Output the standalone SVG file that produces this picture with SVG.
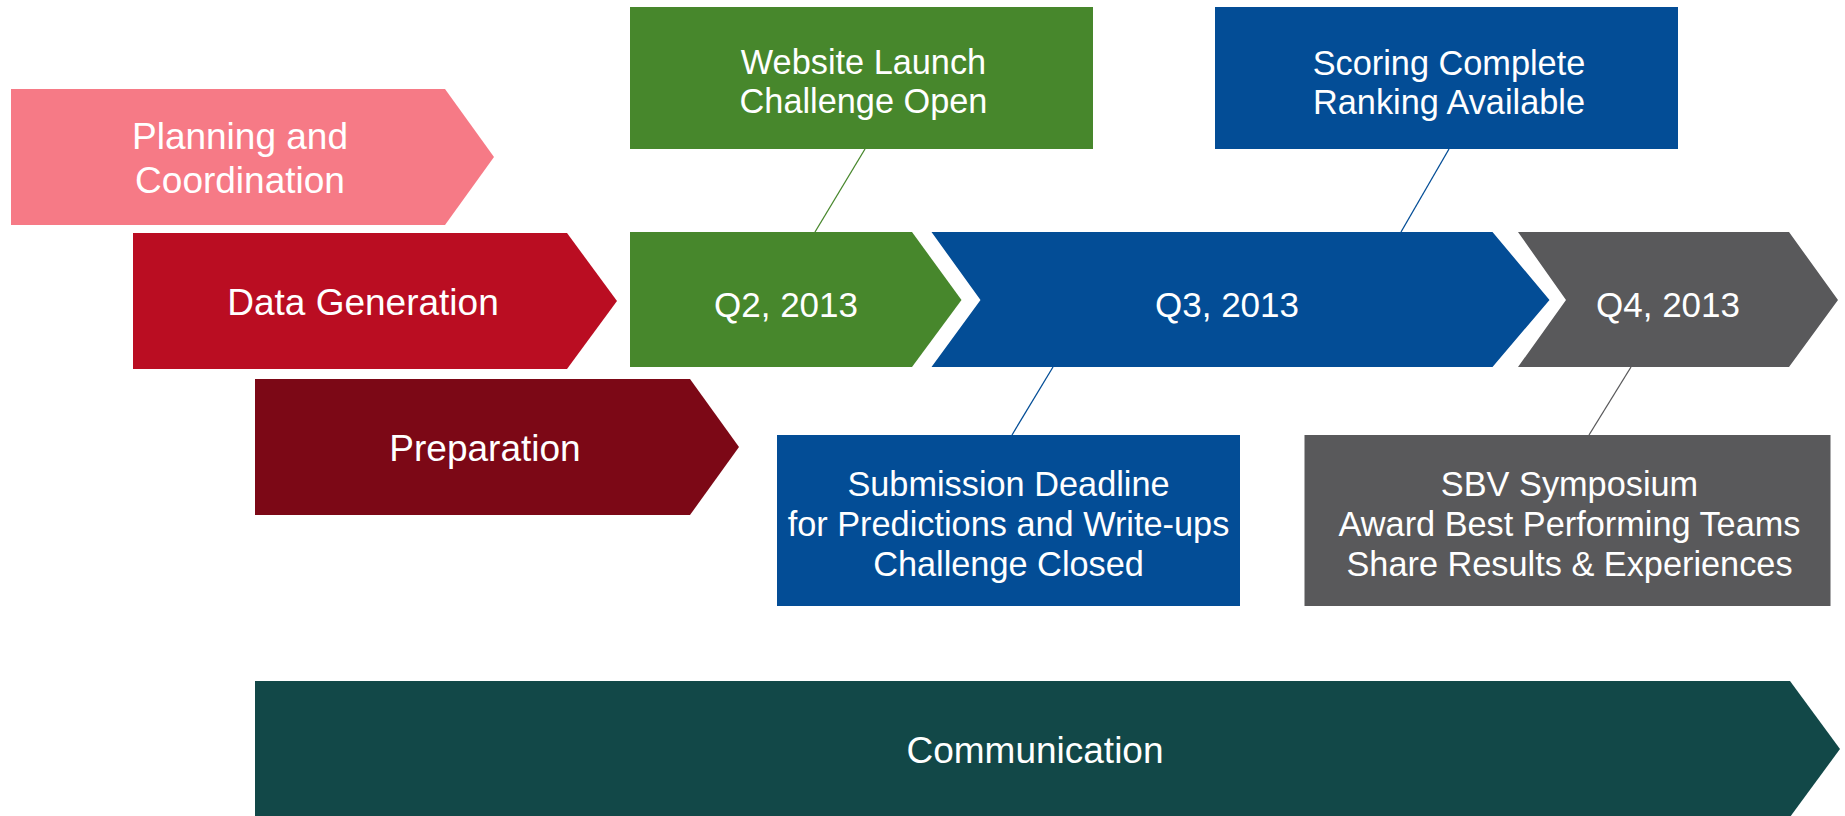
<svg xmlns="http://www.w3.org/2000/svg" width="1845" height="816" viewBox="0 0 1845 816">
<style>
text{font-family:"Liberation Sans",Arial,sans-serif;fill:#ffffff;text-anchor:middle}
.ph{font-size:37px}
.q{font-size:35px}
.bx{font-size:34.3px}
.cg{stroke:#47872C;stroke-width:1.3;fill:none}
.cb{stroke:#034D96;stroke-width:1.3;fill:none}
.cy{stroke:#59595B;stroke-width:1.3;fill:none}
</style>
<rect width="1845" height="816" fill="#ffffff"/>
<g id="planning">
<polygon points="11,89 445,89 494,157 445,225 11,225" fill="#F67A86"/>
<text class="ph" x="240" y="149">Planning and</text>
<text class="ph" x="240" y="193">Coordination</text>
</g>
<g id="data-generation">
<polygon points="133,233 567,233 617,301 567,369 133,369" fill="#BA0D22"/>
<text class="ph" x="363" y="315">Data Generation</text>
</g>
<g id="preparation">
<polygon points="255,379 690,379 739,447 690,515 255,515" fill="#7C0816"/>
<text class="ph" x="485" y="461">Preparation</text>
</g>
<g id="q2">
<polygon points="630,232 912,232 961.5,300 912,367 630,367" fill="#47872C"/>
<text class="q" x="786" y="317">Q2, 2013</text>
</g>
<g id="q3">
<polygon points="931.5,232 1492.5,232 1549.5,300 1492.5,367 931.5,367 980.5,300" fill="#034D96"/>
<text class="q" x="1227" y="317">Q3, 2013</text>
</g>
<g id="q4">
<polygon points="1518,232 1789,232 1838,300 1789,367 1518,367 1566,300" fill="#59595B"/>
<text class="q" x="1668" y="317">Q4, 2013</text>
</g>
<g id="website-launch">
<rect x="630" y="7" width="463" height="142" fill="#47872C"/>
<text class="bx" x="863.5" y="74">Website Launch</text>
<text class="bx" x="863.5" y="113">Challenge Open</text>
</g>
<g id="scoring-complete">
<rect x="1215" y="7" width="463" height="142" fill="#034D96"/>
<text class="bx" x="1449" y="75">Scoring Complete</text>
<text class="bx" x="1449" y="114">Ranking Available</text>
</g>
<g id="submission-deadline">
<rect x="777" y="435" width="463" height="171" fill="#034D96"/>
<text class="bx" x="1008.5" y="496">Submission Deadline</text>
<text class="bx" x="1008.5" y="536">for Predictions and Write-ups</text>
<text class="bx" x="1008.5" y="576">Challenge Closed</text>
</g>
<g id="sbv-symposium">
<rect x="1304.5" y="435" width="526" height="171" fill="#59595B"/>
<text class="bx" x="1569.5" y="496">SBV Symposium</text>
<text class="bx" x="1569.5" y="536">Award Best Performing Teams</text>
<text class="bx" x="1569.5" y="576">Share Results &amp; Experiences</text>
</g>
<g id="communication">
<polygon points="255,681 1790,681 1840,749 1790,817 255,817" fill="#124848"/>
<text class="ph" x="1035" y="763">Communication</text>
</g>
<g id="connectors">
<line class="cg" x1="865" y1="149" x2="815" y2="232"/>
<line class="cb" x1="1449" y1="149" x2="1401" y2="232"/>
<line class="cb" x1="1053" y1="367" x2="1012" y2="435"/>
<line class="cy" x1="1631" y1="367" x2="1589" y2="435"/>
</g>
</svg>
